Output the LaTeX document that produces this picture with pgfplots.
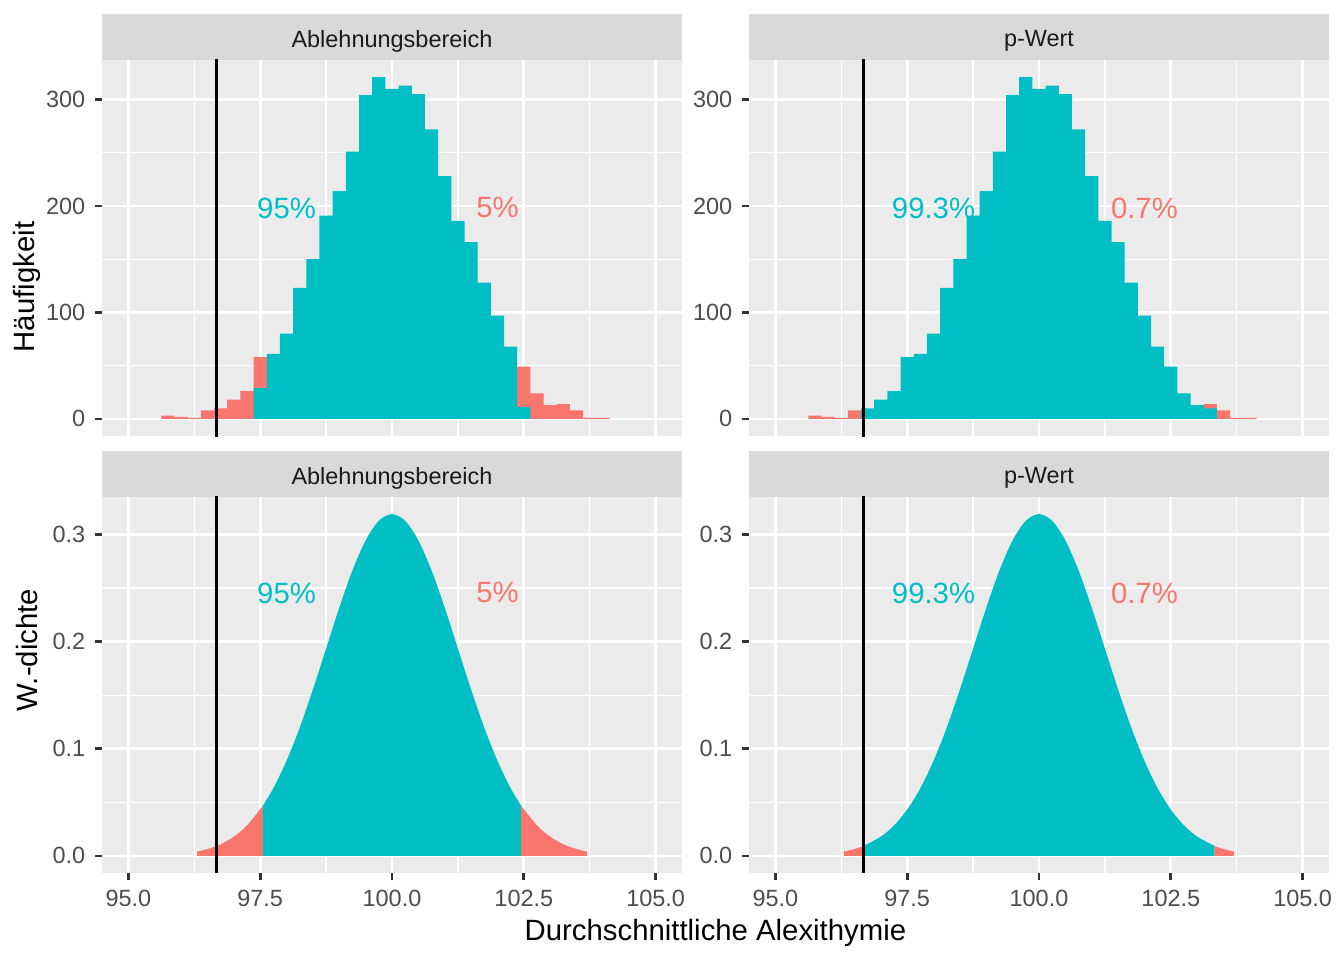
\documentclass[border=0pt]{standalone}
\usepackage{pgfplots}
\pgfplotsset{compat=1.18}
\usepackage{fontspec}
\setmainfont{Liberation Sans}

\definecolor{redfill}{HTML}{F8766D}
\definecolor{tealfill}{HTML}{00BFC4}
\definecolor{panelbg}{HTML}{EBEBEB}
\definecolor{stripbg}{HTML}{D9D9D9}
\definecolor{gray30}{HTML}{4D4D4D}
\definecolor{gray20}{HTML}{333333}
\definecolor{gray10}{HTML}{1A1A1A}

\tikzset{
  pct/.style={text=#1, font=\fontsize{11}{13}\selectfont},
  strip/.style={text=gray10, font=\fontsize{8.8}{10}\selectfont},
}

\pgfplotsset{
  panel/.style={
    scale only axis, width=217.5pt, height=141pt,
    xmin=94.5, xmax=105.5,
    axis background/.style={fill=panelbg},
    axis line style={draw=none},
    grid=both,
    major grid style={draw=white, line width=1pt},
    minor grid style={draw=white, line width=0.5pt},
    xtick={95,97.5,100,102.5,105},
    minor xtick={96.25,98.75,101.25,103.75},
    xtick pos=bottom, ytick pos=left,
    tick align=outside,
    major tick length=2.75pt, minor tick length=0pt,
    tick style={draw=gray20, line width=1pt},
    ticklabel style={font=\fontsize{8.8}{10}\selectfont, text=gray30},
  },
  counts/.style={
    ymin=-16.05, ymax=337.05,
    ytick={0,100,200,300}, minor ytick={50,150,250},
    yticklabels={0,100,200,300},
    xticklabels={}, xtick style={draw=none},
  },
  dens/.style={
    ymin=-0.016, ymax=0.3351,
    ytick={0,0.1,0.2,0.3}, minor ytick={0.05,0.15,0.25},
    yticklabels={0.0,0.1,0.2,0.3},
    xticklabels={95.0,97.5,100.0,102.5,105.0},
  },
  bars/.style={ybar, bar width=0.25, bar shift=0pt, draw=none, fill=#1},
}

\begin{document}
\begin{tikzpicture}
\path[use as bounding box, fill=white] (0,0) rectangle (504pt,360pt);

% facet strips
\fill[stripbg] (38.25pt,337.5pt) rectangle (255.75pt,354.75pt);
\fill[stripbg] (280.875pt,337.5pt) rectangle (498.375pt,354.75pt);
\fill[stripbg] (38.25pt,173.625pt) rectangle (255.75pt,190.875pt);
\fill[stripbg] (280.875pt,173.625pt) rectangle (498.375pt,190.875pt);
\node[strip] at (147pt,344.6pt) {Ablehnungsbereich};
\node[strip] at (389.625pt,344.6pt) {p-Wert};
\node[strip] at (147pt,180.7pt) {Ablehnungsbereich};
\node[strip] at (389.625pt,180.7pt) {p-Wert};

% axis titles
\node[rotate=90, font=\fontsize{11}{13}\selectfont] at (10.125pt,252.375pt) {Häufigkeit};
\node[rotate=90, font=\fontsize{11}{13}\selectfont] at (10.125pt,116.25pt) {W.-dichte};
\node[font=\fontsize{11}{13}\selectfont] at (268.3pt,10.1pt) {Durchschnittliche Alexithymie};

% histogram, rejection region
\begin{axis}[panel, counts, at={(38.25pt,196.5pt)}, anchor=south west]
\addplot[bars=redfill] coordinates {
 (95.75,3) (96,2) (96.25,1) (96.5,8) (96.75,10) (97,18) (97.25,26) (97.5,58)
 (102.5,49) (102.75,24) (103,13) (103.25,14) (103.5,8) (103.75,1) (104,1)};
\addplot[bars=tealfill] coordinates {
 (97.5,29) (97.75,61) (98,80) (98.25,123) (98.5,150) (98.75,191) (99,214)
 (99.25,251) (99.5,304) (99.75,321) (100,310) (100.25,313) (100.5,305)
 (100.75,272) (101,228) (101.25,186) (101.5,166) (101.75,128) (102,97)
 (102.25,68) (102.5,11)};
\addplot[black, line width=1pt] coordinates {(96.67,-20) (96.67,400)};
\node[pct=tealfill, yshift=-0.75pt] at (axis cs:98,200) {95\%};
\node[pct=redfill, yshift=-0.75pt] at (axis cs:102,200) {5\%};
\end{axis}

% histogram, p-value
\begin{axis}[panel, counts, at={(280.875pt,196.5pt)}, anchor=south west]
\addplot[bars=redfill] coordinates {
 (95.75,3) (96,2) (96.25,1) (96.5,8)
 (103.25,14) (103.5,8) (103.75,1) (104,1)};
\addplot[bars=tealfill] coordinates {
 (96.75,10) (97,18) (97.25,26) (97.5,58) (97.75,61) (98,80) (98.25,123)
 (98.5,150) (98.75,191) (99,214) (99.25,251) (99.5,304) (99.75,321)
 (100,310) (100.25,313) (100.5,305) (100.75,272) (101,228) (101.25,186)
 (101.5,166) (101.75,128) (102,97) (102.25,68) (102.5,49) (102.75,24)
 (103,13) (103.25,10)};
\addplot[black, line width=1pt] coordinates {(96.67,-20) (96.67,400)};
\node[pct=tealfill, yshift=-0.75pt] at (axis cs:98,200) {99.3\%};
\node[pct=redfill, yshift=-0.75pt] at (axis cs:102,200) {0.7\%};
\end{axis}

% density, rejection region
\begin{axis}[panel, dens, at={(38.25pt,32.625pt)}, anchor=south west]
\addplot[fill=redfill, draw=none, smooth] coordinates {
 (96.3,0.00399) (96.5,0.00633) (96.75,0.01087) (97,0.01792) (97.25,0.02838)
 (97.55,0.04675)} \closedcycle;
\addplot[fill=tealfill, draw=none, smooth] coordinates {
 (97.55,0.04675) (97.75,0.06316) (98,0.08874) (98.25,0.11978) (98.5,0.15535)
 (98.75,0.19357) (99,0.23175) (99.25,0.26658) (99.5,0.29461) (99.75,0.31283)
 (100,0.31915) (100.25,0.31283) (100.5,0.29461) (100.75,0.26658) (101,0.23175)
 (101.25,0.19357) (101.5,0.15535) (101.75,0.11978) (102,0.08874)
 (102.25,0.06316) (102.45,0.04675)} \closedcycle;
\addplot[fill=redfill, draw=none, smooth] coordinates {
 (102.45,0.04675) (102.75,0.02838) (103,0.01792) (103.25,0.01087)
 (103.5,0.00633) (103.7,0.00399)} \closedcycle;
\addplot[black, line width=1pt] coordinates {(96.67,-1) (96.67,1)};
\node[pct=tealfill, yshift=-1.8pt] at (axis cs:98,0.25) {95\%};
\node[pct=redfill, yshift=-1.8pt] at (axis cs:102,0.25) {5\%};
\end{axis}

% density, p-value
\begin{axis}[panel, dens, at={(280.875pt,32.625pt)}, anchor=south west]
\addplot[fill=redfill, draw=none, smooth] coordinates {
 (96.3,0.00399) (96.5,0.00633) (96.67,0.00919)} \closedcycle;
\addplot[fill=tealfill, draw=none, smooth] coordinates {
 (96.67,0.00919) (97,0.01792) (97.25,0.02838) (97.5,0.04319) (97.75,0.06316)
 (98,0.08874) (98.25,0.11978) (98.5,0.15535) (98.75,0.19357) (99,0.23175)
 (99.25,0.26658) (99.5,0.29461) (99.75,0.31283) (100,0.31915)
 (100.25,0.31283) (100.5,0.29461) (100.75,0.26658) (101,0.23175)
 (101.25,0.19357) (101.5,0.15535) (101.75,0.11978) (102,0.08874)
 (102.25,0.06316) (102.5,0.04319) (102.75,0.02838) (103,0.01792)
 (103.33,0.00919)} \closedcycle;
\addplot[fill=redfill, draw=none, smooth] coordinates {
 (103.33,0.00919) (103.5,0.00633) (103.7,0.00399)} \closedcycle;
\addplot[black, line width=1pt] coordinates {(96.67,-1) (96.67,1)};
\node[pct=tealfill, yshift=-1.8pt] at (axis cs:98,0.25) {99.3\%};
\node[pct=redfill, yshift=-1.8pt] at (axis cs:102,0.25) {0.7\%};
\end{axis}
\end{tikzpicture}
\end{document}
